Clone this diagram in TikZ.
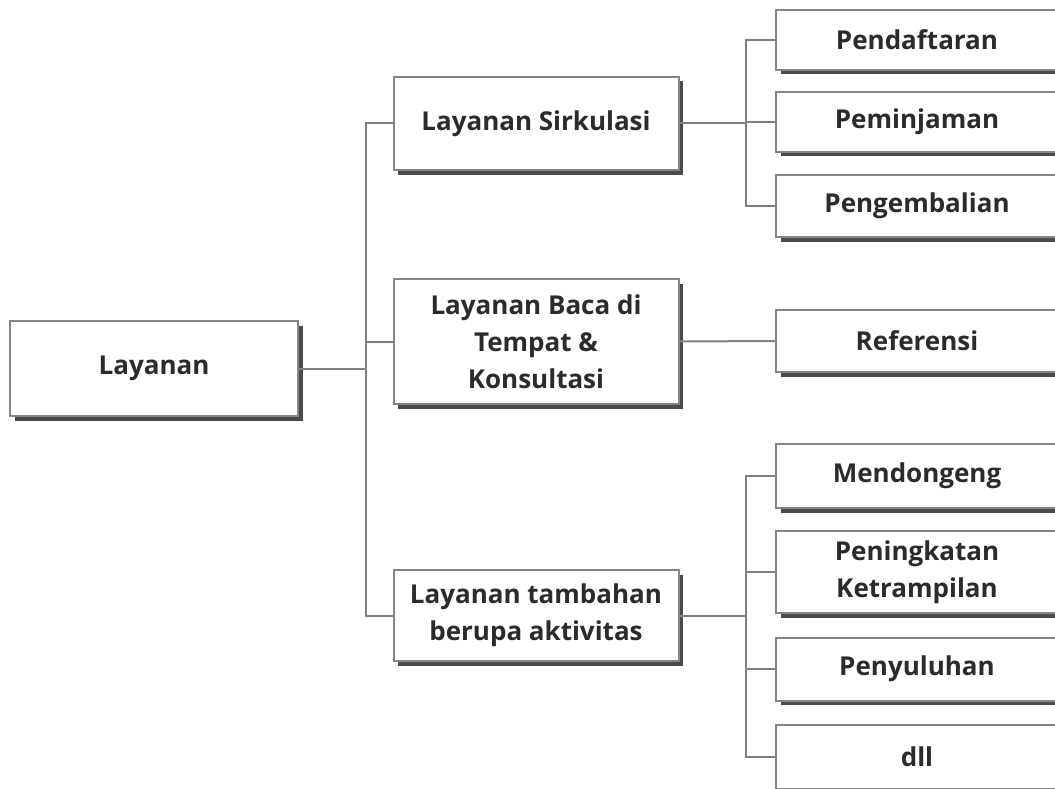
\documentclass[tikz,border=0pt]{standalone}
\usepackage{fontspec}
\setmainfont{Open Sans}
\usetikzlibrary{shadows}
\definecolor{boxline}{HTML}{858585}
\definecolor{linkgray}{HTML}{808080}
\definecolor{shade}{HTML}{4A4A4A}
\definecolor{txt}{HTML}{2B2B2B}

\begin{document}
\begin{tikzpicture}[x=1pt,y=-1pt,
	box/.style={draw=boxline,line width=2pt,fill=white,align=center,
		text=txt,inner sep=0pt,
		font=\bfseries\fontsize{26}{37}\selectfont,
		drop shadow={shadow xshift=4.5pt,shadow yshift=-4.5pt,fill=shade,opacity=1}},
	link/.style={draw=linkgray,line width=2pt}]
	\clip (0,0) rectangle (1055,789);
	% root and second level
	\node[box,minimum width=288,minimum height=95] (lay) at (154,368.5) {Layanan};
	\node[box,minimum width=285,minimum height=93] (sirk) at (536,123.5) {Layanan Sirkulasi};
	\node[box,minimum width=285,minimum height=125] (baca) at (536,341.5) {Layanan Baca di\\Tempat \&\\Konsultasi};
	\node[box,minimum width=285,minimum height=91] (tamb) at (536,615.5) {Layanan tambahan\\berupa aktivitas};
	% third level
	\foreach \n/\y/\h/\t in {daftar/40/60/Pendaftaran,
		pinjam/122/60/Peminjaman,
		kembali/206/62/Pengembalian,
		ref/341/62/Referensi,
		dongeng/476/64/Mendongeng,
		terampil/572/82/{Peningkatan\\Ketrampilan},
		suluh/669/63/Penyuluhan,
		dll/757/64/dll}{
		\node[box,minimum width=282,minimum height=\h] (\n) at (917,\y) {\t};
	}
	% connectors
	\coordinate (j1) at (366,368.5);
	\coordinate (j2) at (746,123.5);
	\coordinate (j3) at (746,615.5);
	\draw[link] (lay.east) -- (j1);
	\foreach \n in {sirk,baca,tamb}
		\draw[link] (\n.west) -| (j1);
	\draw[link] (sirk.east) -- (j2);
	\foreach \n in {daftar,pinjam,kembali}
		\draw[link] (\n.west) -| (j2);
	\draw[link] (baca.east) -- (ref.west);
	\draw[link] (tamb.east) -- (j3);
	\foreach \n in {dongeng,terampil,suluh,dll}
		\draw[link] (\n.west) -| (j3);
\end{tikzpicture}
\end{document}
